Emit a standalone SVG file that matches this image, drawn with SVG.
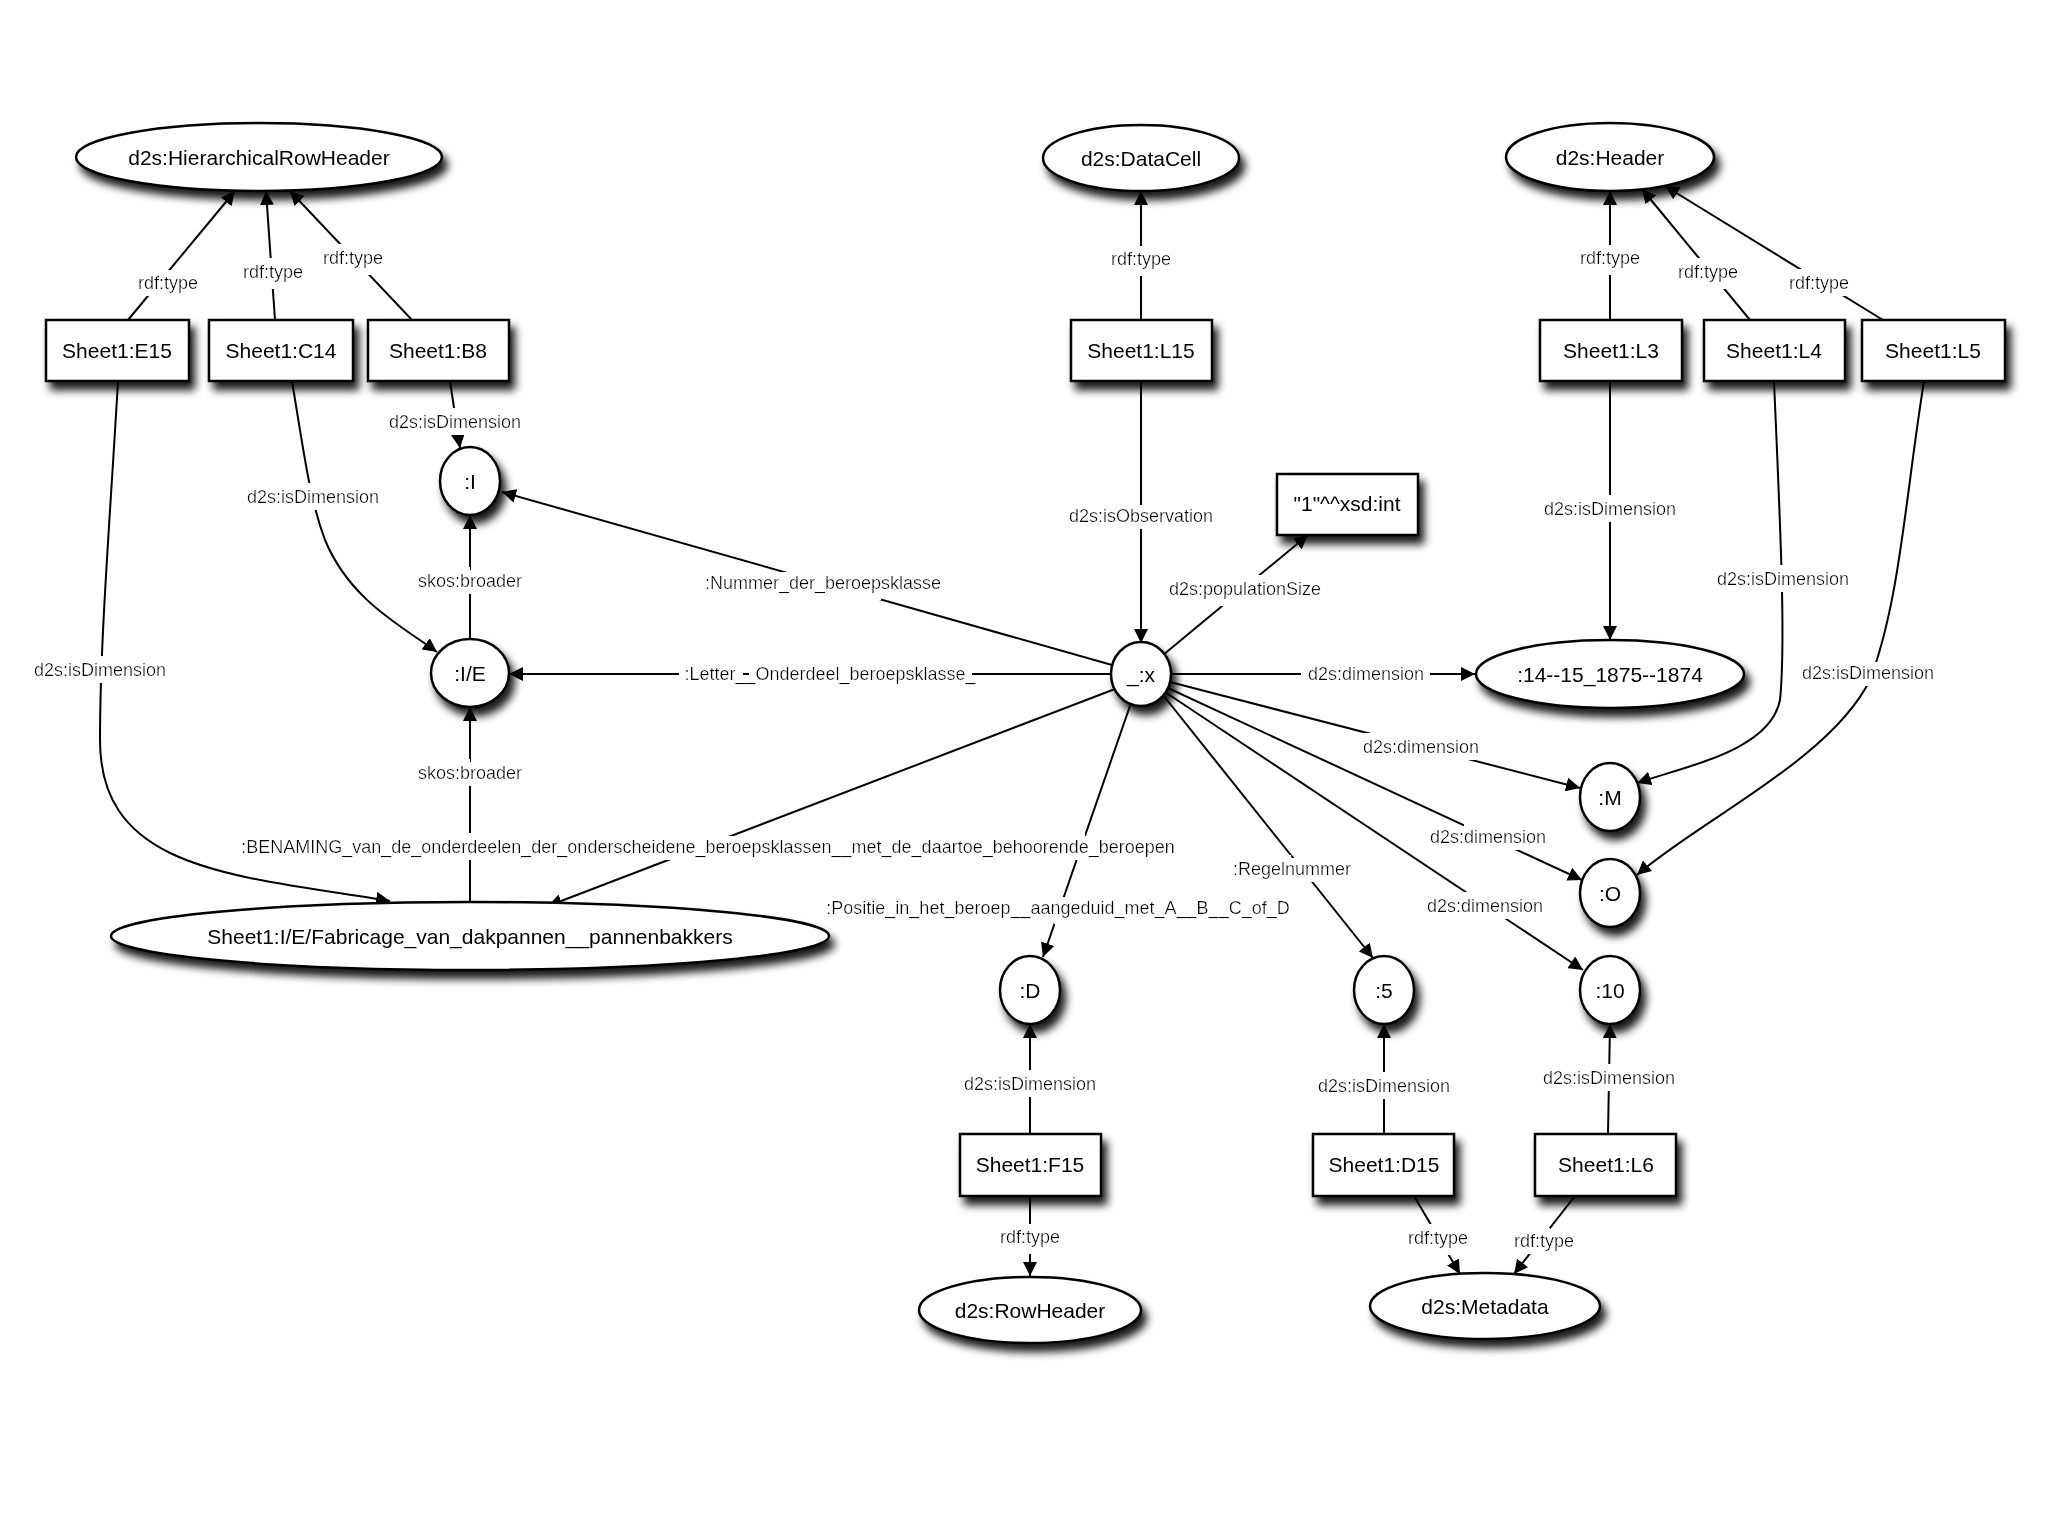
<svg xmlns="http://www.w3.org/2000/svg" width="2048" height="1536" viewBox="0 0 2048 1536">
<defs>
<filter id="sh" x="-20%" y="-20%" width="150%" height="160%"><feGaussianBlur in="SourceAlpha" stdDeviation="4"/><feOffset dx="5" dy="8"/><feComponentTransfer><feFuncA type="linear" slope="0.9"/></feComponentTransfer><feMerge><feMergeNode/><feMergeNode in="SourceGraphic"/></feMerge></filter>
<filter id="bg" x="-10%" y="-50%" width="120%" height="200%"><feMorphology in="SourceAlpha" operator="dilate" radius="7"/><feComponentTransfer result="m"><feFuncA type="linear" slope="100"/></feComponentTransfer><feFlood flood-color="#fff"/><feComposite in2="m" operator="in"/><feMerge><feMergeNode/><feMergeNode in="SourceGraphic"/></feMerge></filter>
<marker id="ar" viewBox="0 0 10 10" refX="10" refY="5" markerWidth="14" markerHeight="14" markerUnits="userSpaceOnUse" orient="auto"><path d="M0,0L10,5L0,10z" fill="#000"/></marker>
</defs>
<style>
.n ellipse,.n rect{fill:#fff;stroke:#000;stroke-width:2.5}
.n{filter:url(#sh)}
.n text{font-family:"Liberation Sans",Arial,sans-serif;font-size:21px;text-anchor:middle;dominant-baseline:central}
#edges path{fill:none;stroke:#000;stroke-width:2;marker-end:url(#ar)}
#edges text{font-family:"Liberation Sans",Arial,sans-serif;font-size:18px;text-anchor:middle;dominant-baseline:central;filter:url(#bg)}
</style>
<rect width="2048" height="1536" fill="#fff"/>
<g id="edges">
<path d="M128,320L235,191"/><text x="168" y="283">rdf:type</text>
<path d="M275,320L266,191"/><text x="273" y="272">rdf:type</text>
<path d="M412,320L290,191"/><text x="353" y="258">rdf:type</text>
<path d="M450,381L460,448"/><text x="455" y="422">d2s:isDimension</text>
<path d="M292,381C305,460 310,500 325,540C350,600 400,625 437,652"/><text x="313" y="497">d2s:isDimension</text>
<path d="M118,381C110,520 100,640 100,740C100,870 230,875 390,901"/><text x="100" y="670">d2s:isDimension</text>
<path d="M470,639L470,515"/><text x="470" y="581">skos:broader</text>
<path d="M470,902L470,707"/><text x="470" y="773">skos:broader</text>
<path d="M1112,665L502,492"/><text x="823" y="583">:Nummer_der_beroepsklasse</text>
<path d="M1111,674L509,674"/><text x="830" y="674">:Letter__Onderdeel_beroepsklasse_</text>
<path d="M1115,689L548,906"/>
<path d="M1131,703L1043,957"/>
<text x="708" y="847">:BENAMING_van_de_onderdeelen_der_onderscheidene_beroepsklassen__met_de_daartoe_behoorende_beroepen</text>
<text x="1058" y="908">:Positie_in_het_beroep__aangeduid_met_A__B__C_of_D</text>
<path d="M1163,695L1373,958"/><text x="1292" y="869">:Regelnummer</text>
<path d="M1165,692L1583,970"/><text x="1485" y="906">d2s:dimension</text>
<path d="M1168,688L1582,880"/><text x="1488" y="837">d2s:dimension</text>
<path d="M1170,682L1580,788"/><text x="1421" y="747">d2s:dimension</text>
<path d="M1171,674L1475,674"/><text x="1366" y="674">d2s:dimension</text>
<path d="M1163,655L1308,535"/><text x="1245" y="589">d2s:populationSize</text>
<path d="M1141,381L1141,643"/><text x="1141" y="516">d2s:isObservation</text>
<path d="M1141,320L1141,191"/><text x="1141" y="259">rdf:type</text>
<path d="M1610,320L1610,191"/><text x="1610" y="258">rdf:type</text>
<path d="M1750,320L1642,189"/><text x="1708" y="272">rdf:type</text>
<path d="M1883,320L1665,186"/><text x="1819" y="283">rdf:type</text>
<path d="M1610,381L1610,640"/><text x="1610" y="509">d2s:isDimension</text>
<path d="M1774,381C1780,520 1786,640 1780,700C1770,750 1690,765 1637,783"/><text x="1783" y="579">d2s:isDimension</text>
<path d="M1924,381C1905,500 1900,600 1870,680C1830,760 1700,820 1637,875"/><text x="1868" y="673">d2s:isDimension</text>
<path d="M1030,1134L1030,1024"/><text x="1030" y="1084">d2s:isDimension</text>
<path d="M1384,1134L1384,1024"/><text x="1384" y="1086">d2s:isDimension</text>
<path d="M1608,1134L1610,1024"/><text x="1609" y="1078">d2s:isDimension</text>
<path d="M1030,1196L1030,1276"/><text x="1030" y="1237">rdf:type</text>
<path d="M1414,1196L1460,1274"/><text x="1438" y="1238">rdf:type</text>
<path d="M1575,1196L1514,1274"/><text x="1544" y="1241">rdf:type</text>
</g>
<g id="hrh" class="n"><ellipse cx="259" cy="157" rx="183" ry="34"/><text x="259" y="157">d2s:HierarchicalRowHeader</text></g>
<g id="datacell" class="n"><ellipse cx="1141" cy="158" rx="98" ry="33"/><text x="1141" y="158">d2s:DataCell</text></g>
<g id="header" class="n"><ellipse cx="1610" cy="157" rx="104" ry="34"/><text x="1610" y="157">d2s:Header</text></g>
<g id="e15" class="n"><rect x="46" y="320" width="143" height="61"/><text x="117" y="350">Sheet1:E15</text></g>
<g id="c14" class="n"><rect x="209" y="320" width="144" height="61"/><text x="281" y="350">Sheet1:C14</text></g>
<g id="b8" class="n"><rect x="368" y="320" width="141" height="61"/><text x="438" y="350">Sheet1:B8</text></g>
<g id="l15" class="n"><rect x="1071" y="320" width="141" height="61"/><text x="1141" y="350">Sheet1:L15</text></g>
<g id="l3" class="n"><rect x="1540" y="320" width="142" height="61"/><text x="1611" y="350">Sheet1:L3</text></g>
<g id="l4" class="n"><rect x="1704" y="320" width="141" height="61"/><text x="1774" y="350">Sheet1:L4</text></g>
<g id="l5" class="n"><rect x="1862" y="320" width="143" height="61"/><text x="1933" y="350">Sheet1:L5</text></g>
<g id="i" class="n"><ellipse cx="470" cy="481" rx="30" ry="34"/><text x="470" y="481">:I</text></g>
<g id="ie" class="n"><ellipse cx="470" cy="673" rx="39" ry="34"/><text x="470" y="673">:I/E</text></g>
<g id="x" class="n"><ellipse cx="1141" cy="674" rx="30" ry="32"/><text x="1141" y="674">_:x</text></g>
<g id="int" class="n"><rect x="1277" y="474" width="141" height="61"/><text x="1347" y="503">"1"^^xsd:int</text></g>
<g id="y1415" class="n"><ellipse cx="1610" cy="674" rx="134" ry="34"/><text x="1610" y="674">:14--15_1875--1874</text></g>
<g id="m" class="n"><ellipse cx="1610" cy="797" rx="30" ry="34"/><text x="1610" y="797">:M</text></g>
<g id="o" class="n"><ellipse cx="1610" cy="893" rx="30" ry="34"/><text x="1610" y="893">:O</text></g>
<g id="n10" class="n"><ellipse cx="1610" cy="990" rx="30" ry="34"/><text x="1610" y="990">:10</text></g>
<g id="n5" class="n"><ellipse cx="1384" cy="990" rx="30" ry="34"/><text x="1384" y="990">:5</text></g>
<g id="d" class="n"><ellipse cx="1030" cy="990" rx="30" ry="34"/><text x="1030" y="990">:D</text></g>
<g id="fab" class="n"><ellipse cx="470" cy="936" rx="359" ry="34"/><text x="470" y="936">Sheet1:I/E/Fabricage_van_dakpannen__pannenbakkers</text></g>
<g id="f15" class="n"><rect x="960" y="1134" width="141" height="62"/><text x="1030" y="1164">Sheet1:F15</text></g>
<g id="d15" class="n"><rect x="1313" y="1134" width="141" height="62"/><text x="1384" y="1164">Sheet1:D15</text></g>
<g id="l6" class="n"><rect x="1535" y="1134" width="141" height="62"/><text x="1606" y="1164">Sheet1:L6</text></g>
<g id="rowheader" class="n"><ellipse cx="1030" cy="1310" rx="111" ry="33"/><text x="1030" y="1310">d2s:RowHeader</text></g>
<g id="metadata" class="n"><ellipse cx="1485" cy="1306" rx="115" ry="33"/><text x="1485" y="1306">d2s:Metadata</text></g>
</svg>
